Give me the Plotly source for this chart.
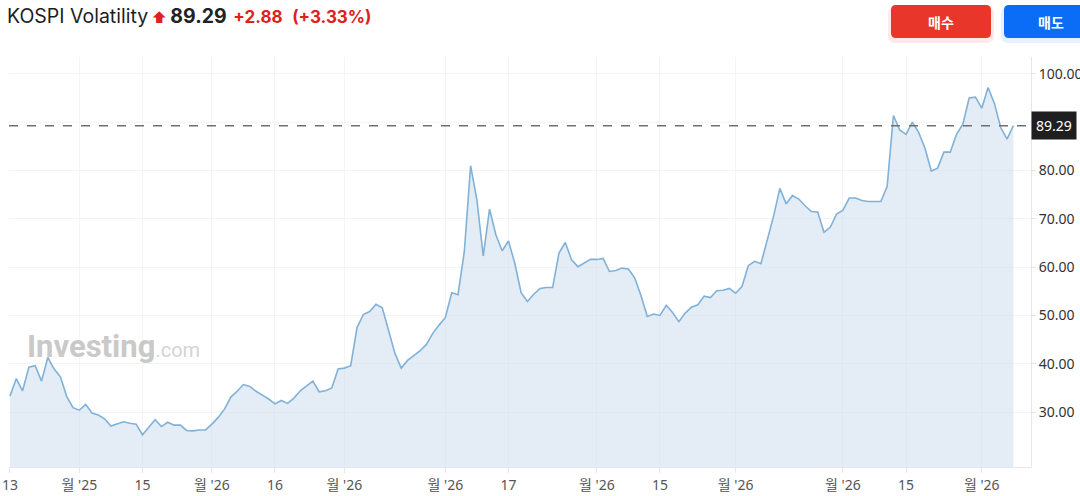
import plotly.graph_objects as go

# KOSPI Volatility, one value per session
values = [
    33.3, 36.9, 34.4, 39.3, 39.6, 36.4, 41.3, 38.9, 37.3, 33.2,
    30.9, 30.4, 31.6, 29.8, 29.4, 28.6, 27.1, 27.5, 28.0, 27.7,
    27.5, 25.3, 26.8, 28.4, 27.0, 27.9, 27.3, 27.3, 26.2, 26.1,
    26.3, 26.3, 27.5, 28.9, 30.6, 33.1, 34.3, 35.7, 35.3, 34.3,
    33.5, 32.7, 31.7, 32.4, 31.8, 32.9, 34.4, 35.5, 36.4, 34.2,
    34.4, 35.0, 38.9, 39.1, 39.6,
    47.5, 50.2, 50.8, 52.3, 51.6, 47.0, 42.2, 39.1, 40.7, 41.7,
    42.7, 44.0, 46.3, 48.0, 49.6, 54.7, 54.3, 63.2, 81.0, 73.9,
    62.3, 72.0, 66.7, 63.4, 65.4, 60.8, 54.7, 52.9, 54.4, 55.6,
    55.8, 55.8, 62.9, 65.1, 61.5, 60.1, 60.8, 61.6, 61.6, 61.8,
    59.1, 59.3, 59.8, 59.6, 57.8, 54.1, 49.8, 50.3, 50.0, 52.1,
    50.6, 48.7, 50.5,
    51.7, 52.2, 54.0, 53.7, 55.1, 55.2, 55.6, 54.6, 56.0, 60.3,
    61.2, 60.7, 65.6, 70.5, 76.3, 73.1, 74.8, 74.1, 72.7, 71.5,
    71.4, 67.2, 68.3, 71.0, 71.8, 74.3, 74.3, 73.8, 73.6, 73.6,
    73.6, 76.7, 91.4, 88.4, 87.5, 90.0, 87.9, 84.6, 79.9, 80.5,
    83.8, 83.8, 87.5, 89.6, 95.0, 95.2, 92.9, 97.2, 93.9, 88.9,
    86.5, 89.29,
]
last_price = 89.29
change = "+2.88"
change_pct = "(+3.33%)"

tick_idx = [0, 11, 21, 32, 42, 53, 69, 79, 93, 103, 115, 132, 142, 154]
tick_text = ["13", "월 '25", "15", "월 '26", "16", "월 '26", "월 '26", "17",
             "월 '26", "15", "월 '26", "월 '26", "15", "월 '26"]
# 90.00 sits under the last-price tag, so it is not labelled
y_ticks = [30, 40, 50, 60, 70, 80, 100]

W, H = 1080, 496
L, R, T, B = 9, 1031, 57, 467


def px(x):
    return (x - L) / (R - L)


def py(y):
    return (B - y) / (B - T)


def rounded(x0, y0, x1, y1, r):
    # rounded rectangle path in paper coordinates, given in pixels
    pts = (f"M{px(x0 + r)},{py(y0)} L{px(x1 - r)},{py(y0)} "
           f"Q{px(x1)},{py(y0)} {px(x1)},{py(y0 + r)} "
           f"L{px(x1)},{py(y1 - r)} Q{px(x1)},{py(y1)} {px(x1 - r)},{py(y1)} "
           f"L{px(x0 + r)},{py(y1)} Q{px(x0)},{py(y1)} {px(x0)},{py(y1 - r)} "
           f"L{px(x0)},{py(y0 + r)} Q{px(x0)},{py(y0)} {px(x0 + r)},{py(y0)} Z")
    return pts


fig = go.Figure()
fig.add_trace(go.Scatter(
    x=list(range(len(values))),
    y=values,
    mode="lines",
    line=dict(color="#80b1d9", width=1.6),
    fill="tozeroy",
    fillcolor="rgba(205,222,238,0.55)",
    hoverinfo="skip",
))

# horizontal gridline at 90 (no label there)
fig.add_hline(y=90, line=dict(color="#f3f4f7", width=1), layer="below")
fig.add_hline(y=last_price, line=dict(color="#707070", width=1.5, dash="dash"))

# buy / sell buttons with a soft glow
fig.add_shape(type="path", xref="paper", yref="paper",
              path=rounded(888, 7, 994, 43, 7), fillcolor="rgba(232,53,42,0.10)",
              line=dict(width=0))
fig.add_shape(type="path", xref="paper", yref="paper",
              path=rounded(891, 5, 991, 38, 5), fillcolor="#e9362b",
              line=dict(width=0))
fig.add_shape(type="path", xref="paper", yref="paper",
              path=rounded(1001, 7, 1100, 43, 7), fillcolor="rgba(10,108,245,0.10)",
              line=dict(width=0))
fig.add_shape(type="path", xref="paper", yref="paper",
              path=rounded(1004, 5, 1100, 38, 5), fillcolor="#0b6cf6",
              line=dict(width=0))

font_axis = "Noto Sans, Noto Sans CJK KR, sans-serif"

fig.update_layout(
    width=W, height=H,
    margin=dict(l=L, r=W - R, t=T, b=H - B),
    paper_bgcolor="white",
    plot_bgcolor="white",
    showlegend=False,
    xaxis=dict(
        range=[-0.15, 161.8],
        tickmode="array", tickvals=tick_idx, ticktext=tick_text,
        showgrid=True, gridcolor="#f3f4f7", gridwidth=1,
        showline=True, linecolor="#e4e7ee", linewidth=1,
        ticks="outside", ticklen=5, tickcolor="#e4e7ee",
        tickfont=dict(family=font_axis, size=14, color="#555"),
        zeroline=False, automargin=False,
    ),
    yaxis=dict(
        range=[18.63, 103.5],
        side="right",
        tickmode="array", tickvals=y_ticks, tickformat=".2f",
        showgrid=True, gridcolor="#f3f4f7", gridwidth=1,
        showline=True, linecolor="#e4e7ee", linewidth=1,
        ticks="outside", ticklen=4, tickcolor="#e4e7ee",
        tickfont=dict(family=font_axis, size=14, color="#333"),
        zeroline=False, automargin=False,
    ),
)

fig.add_annotation(
    xref="paper", yref="paper", x=px(5), y=py(16), xanchor="left", yanchor="middle",
    showarrow=False,
    text=("<span style='font-family:Inter;font-size:19.5px;color:#1e1e1e'>KOSPI Volatility</span> "
          "<span style='font-size:15px;color:#e0201b'>⬆</span> "
          "<span style='font-family:Inter;font-size:19.5px;color:#222'><b>" + f"{last_price:.2f}" + "</b></span>  "
          "<span style='font-family:Inter;font-size:17px;color:#e0201b'><b>" + change + "</b>  <b>" + change_pct + "</b></span>"),
    font=dict(family="Inter"),
)
fig.add_annotation(
    xref="paper", yref="paper", x=px(941), y=py(22), xanchor="center", yanchor="middle",
    showarrow=False, text="<b>매수</b>",
    font=dict(family="Noto Sans CJK KR", size=14, color="white"),
)
fig.add_annotation(
    xref="paper", yref="paper", x=px(1051), y=py(22), xanchor="center", yanchor="middle",
    showarrow=False, text="<b>매도</b>",
    font=dict(family="Noto Sans CJK KR", size=14, color="white"),
)
# last price tag on the axis
fig.add_annotation(
    xref="paper", yref="y", x=px(1031), y=last_price, xanchor="left", yanchor="middle",
    showarrow=False, text=f"{last_price:.2f}",
    bgcolor="#1f1f1f", borderpad=4,
    font=dict(family=font_axis, size=14, color="white"),
)
# watermark
fig.add_annotation(
    xref="paper", yref="paper", x=px(25), y=py(346), xanchor="left", yanchor="middle",
    showarrow=False,
    text=("<span style='color:#c9c9c9'><b>Investing</b></span>"
          "<span style='color:#d4d4d4;font-size:20px'>.com</span>"),
    font=dict(family="Roboto", size=31),
)

# the page body has an 8px default margin; drop it so the chart sits at 0,0
fig.write_html(
    "out.html",
    config={"displayModeBar": False},
    post_script="document.body.style.margin='0';",
)
